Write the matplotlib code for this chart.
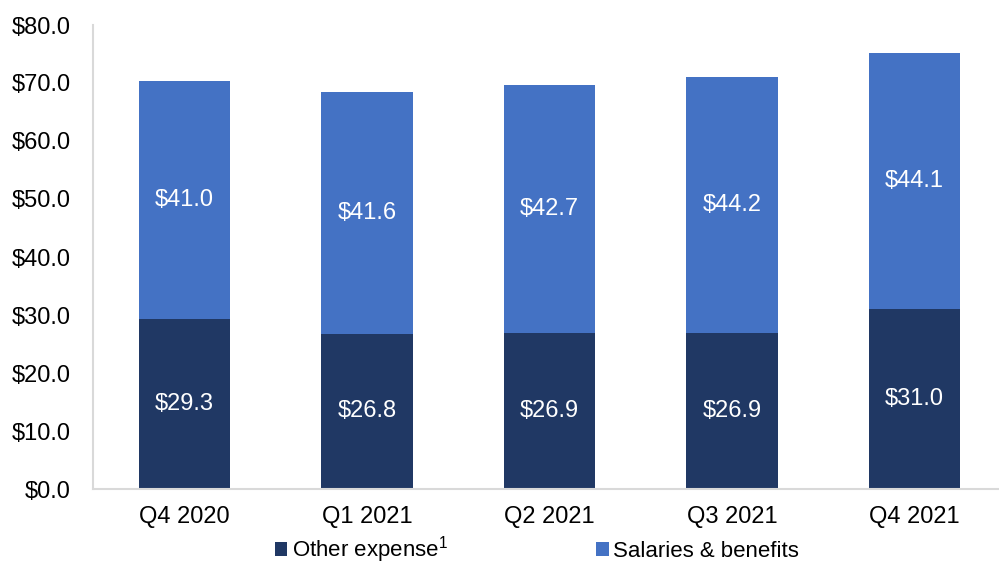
import matplotlib.pyplot as plt
from matplotlib.patches import Patch

plt.rcParams['font.family'] = ['Liberation Sans', 'DejaVu Sans']
plt.rcParams['mathtext.fontset'] = 'custom'
plt.rcParams['mathtext.rm'] = 'Liberation Sans'

# data
quarters = ['Q4 2020', 'Q1 2021', 'Q2 2021', 'Q3 2021', 'Q4 2021']
other_expense = [29.3, 26.8, 26.9, 26.9, 31.0]
salaries = [41.0, 41.6, 42.7, 44.2, 44.1]
yticks = [0, 10, 20, 30, 40, 50, 60, 70, 80]

c_other = '#203864'
c_sal = '#4472C4'

fig = plt.figure(figsize=(9.99, 5.66), dpi=100)
ax = fig.add_axes([93 / 999, 77 / 566, 1 - 93 / 999, 464 / 566])

x = range(len(quarters))
ax.bar(x, other_expense, width=0.5, color=c_other)
ax.bar(x, salaries, width=0.5, bottom=other_expense, color=c_sal)

# value labels in the middle of each segment
for i in x:
    ax.text(i, other_expense[i] / 2, f"${other_expense[i]:.1f}", ha='center', va='center',
            color='white', fontsize=17)
    ax.text(i, other_expense[i] + salaries[i] / 2, f"${salaries[i]:.1f}", ha='center', va='center',
            color='white', fontsize=17)

ax.set_ylim(0, 80)
ax.set_xlim(-0.5, 4.5 - 7 / 183)
ax.set_yticks(yticks)
ax.set_yticklabels([f"${v:.1f}" for v in yticks], fontsize=17)
ax.set_xticks(list(x))
ax.set_xticklabels(quarters, fontsize=17)
ax.tick_params(axis='y', length=0, pad=16)
ax.tick_params(axis='x', length=0, pad=12)

for s in ['top', 'right']:
    ax.spines[s].set_visible(False)
for s in ['left', 'bottom']:
    ax.spines[s].set_color('#d9d9d9')
    ax.spines[s].set_linewidth(1.5)

# legend along the bottom edge
handles = [Patch(facecolor=c_other, label='Other expense$^{1}$'),
           Patch(facecolor=c_sal, label='Salaries & benefits')]
fig.legend(handles=handles, loc='center', bbox_to_anchor=(537 / 999, 1 - 550 / 566), ncol=2,
           frameon=False, fontsize=16, handlelength=0.55, handleheight=0.55, handletextpad=0.2,
           columnspacing=6.7, borderpad=0)

fig.savefig('out.png', dpi=100)
